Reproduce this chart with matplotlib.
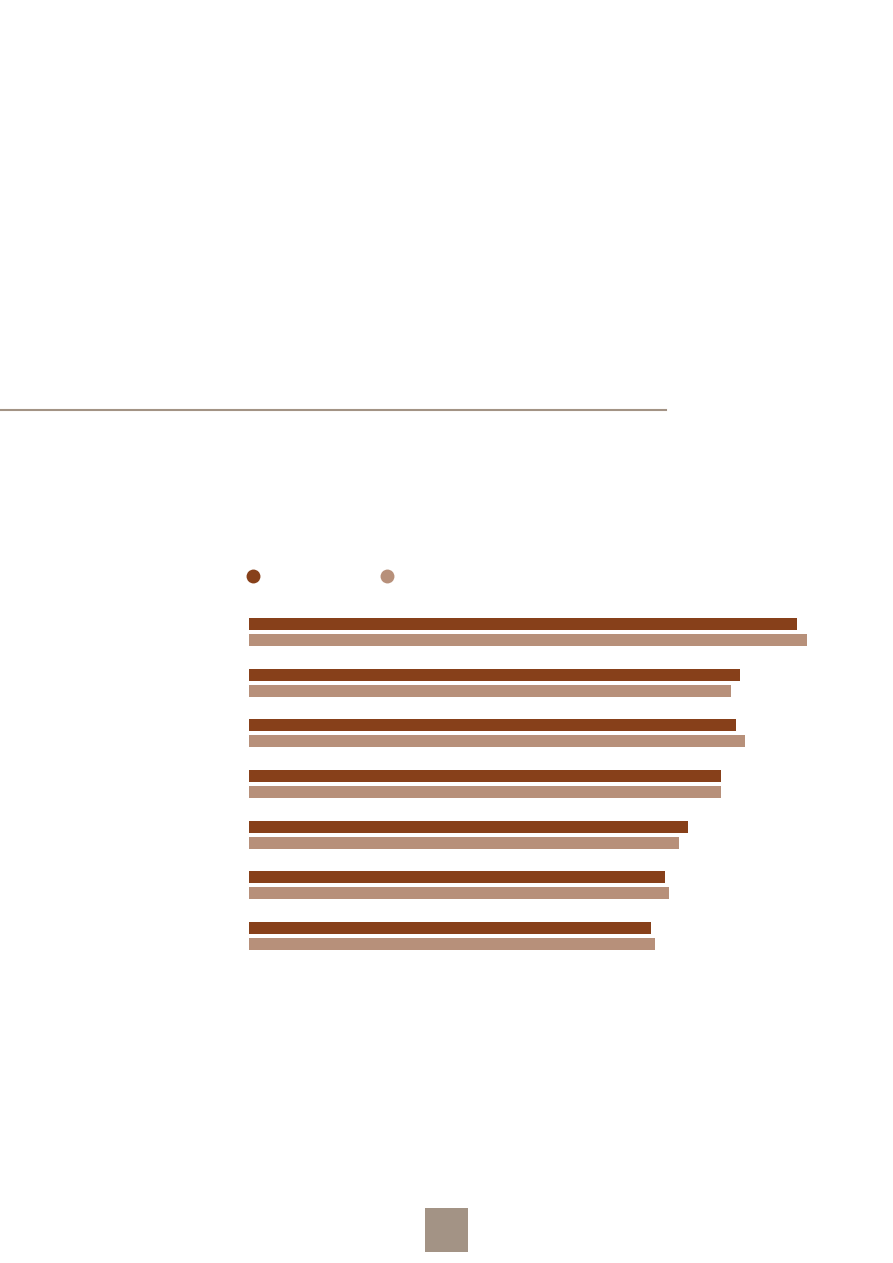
import numpy as np
import matplotlib
matplotlib.use("Agg")
import matplotlib.pyplot as plt
from matplotlib.lines import Line2D
from matplotlib.patches import Rectangle

# bar lengths (page has no labels, units unknown)
series_a = [548, 491, 487, 472, 439, 416, 402]
series_b = [558, 482, 496, 472, 430, 420, 406]
groups = np.arange(len(series_a))

dark = "#87401A"
light = "#B7907A"
rule = "#A39385"

W, H = 893, 1263
fig = plt.figure(figsize=(W / 100, H / 100), dpi=100)
fig.patch.set_facecolor("white")

# bar area: left edge at x=249 px, rows 600..960 px
ax = fig.add_axes([249 / W, 1 - 960 / H, 600 / W, 360 / H])
bh = 12 / 50.67
off = 8 / 50.67
ax.barh(groups - off, series_a, height=bh, color=dark, linewidth=0)
ax.barh(groups + off, series_b, height=bh, color=light, linewidth=0)
ax.set_xlim(0, 600)
ax.set_ylim(6.473, -0.632)
ax.axis("off")

# legend dots (no text in the source)
for x, c in [(253, dark), (386.5, light)]:
    fig.add_artist(Line2D([x / W], [1 - 576 / H], marker="o", ms=10,
                          color=c, mec="none", linestyle="none"))

# rule under the header area
fig.add_artist(Line2D([0, 666 / W], [1 - 410 / H, 1 - 410 / H],
                      color=rule, linewidth=1.5))

# page-number box
fig.add_artist(Rectangle((425 / W, 1 - 1252 / H), 43 / W, 44 / H,
                         facecolor="#A39385", edgecolor="none"))

fig.savefig("out.png", dpi=100, facecolor="white")
